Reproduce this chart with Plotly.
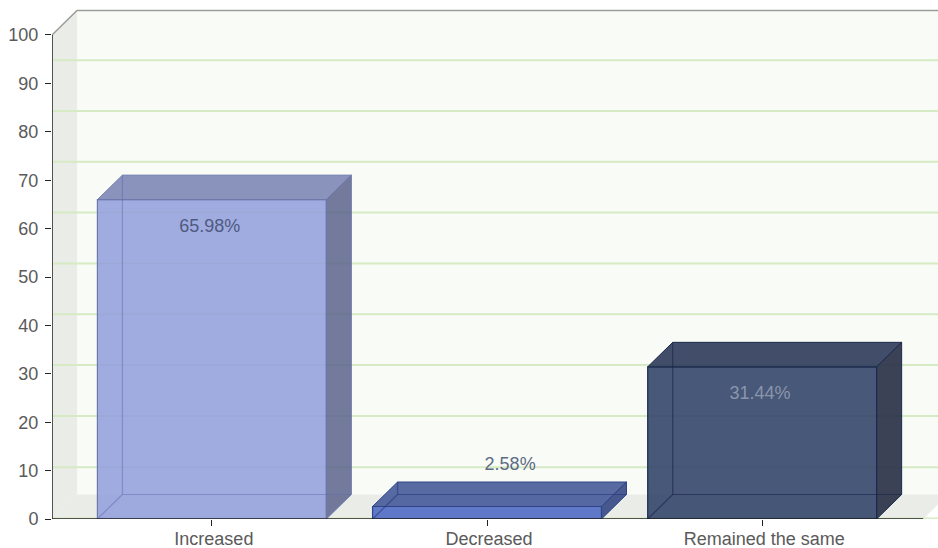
import plotly.graph_objects as go

categories = ["Increased", "Decreased", "Remained the same"]
values = [65.98, 2.58, 31.44]
labels = ["65.98%", "2.58%", "31.44%"]
y_ticks = [0, 10, 20, 30, 40, 50, 60, 70, 80, 90, 100]
wall_lines = [0.1, 10.7, 21.3, 31.8, 42.3, 52.8, 63.3, 73.8, 84.3, 94.8]

front_colors = ["rgba(145,158,220,0.85)", "rgba(80,108,195,0.9)", "rgba(52,70,106,0.9)"]
top_colors = ["rgba(118,128,178,0.85)", "rgba(65,85,150,0.88)", "rgba(45,58,90,0.9)"]
side_colors = ["rgba(96,104,142,0.88)", "rgba(52,72,132,0.9)", "rgba(42,50,72,0.92)"]
edge_colors = ["#6d79ad", "#2f4488", "#1b2a4e"]
inner_colors = ["rgba(95,108,175,0.5)", "rgba(35,55,120,0.6)", "rgba(25,38,75,0.65)"]
label_colors = ["#4f5a80", "#5c6a86", "#8b95ad"]

BAR_W = 0.832
DX, DY = 0.0909, 5.06
X0, X_END, X_MAX = -0.581, 2.585, 2.639
Y_MAX = 107.23

WALL = "#eaece8"
BACK = "#f9fcf6"

shapes = [
    dict(type="rect", xref="x", yref="y", x0=X0 + DX, x1=X_MAX + 1, y0=DY, y1=100 + DY,
         fillcolor=BACK, line_width=0, layer="below"),
    dict(type="path", xref="x", yref="y", layer="below", fillcolor=WALL, line_width=0,
         path=f"M{X0},0 L{X0+DX},{DY} L{X0+DX},{100+DY} L{X0},100 Z"),
    dict(type="path", xref="x", yref="y", layer="below", fillcolor=WALL, line_width=0,
         path=f"M{X0},0 L{X0+DX},{DY} L{X_END+DX},{DY} L{X_END},0 Z"),
]
for g in wall_lines:
    shapes.append(dict(type="line", xref="x", yref="y", layer="below", x0=X0, x1=X_MAX, y0=g, y1=g,
                       line=dict(color="#d6eac4", width=2)))
# top/back border of the wall
shapes.append(dict(type="path", xref="x", yref="y", layer="below", fillcolor="rgba(0,0,0,0)",
                   path=f"M{X0},100 L{X0+DX},{100+DY} L{X_MAX},{100+DY}",
                   line=dict(color="#9a9c9a", width=1.5)))
# axis lines
shapes.append(dict(type="line", xref="x", yref="y", layer="above", x0=X0, x1=X0, y0=0, y1=100,
                   line=dict(color="#222222", width=1.5)))
shapes.append(dict(type="line", xref="x", yref="y", layer="above", x0=X0, x1=X_END, y0=0, y1=0,
                   line=dict(color="#222222", width=1.5)))

fig = go.Figure()
fig.add_trace(go.Bar(x=list(range(3)), y=values, width=BAR_W,
                     marker=dict(color=front_colors, line=dict(color=edge_colors, width=1.2)),
                     hoverinfo="skip", showlegend=False))

for i, v in enumerate(values):
    l, r = i - BAR_W / 2, i + BAR_W / 2
    fig.add_trace(go.Scatter(x=[l, l + DX, r + DX, r, l], y=[v, v + DY, v + DY, v, v],
                             mode="lines", fill="toself", fillcolor=top_colors[i],
                             line=dict(color=edge_colors[i], width=1), hoverinfo="skip", showlegend=False))
    fig.add_trace(go.Scatter(x=[r, r + DX, r + DX, r, r], y=[0, DY, v + DY, v, 0],
                             mode="lines", fill="toself", fillcolor=side_colors[i],
                             line=dict(color=edge_colors[i], width=1), hoverinfo="skip", showlegend=False))
    fig.add_trace(go.Scatter(x=[l, l + DX, l + DX, None, l + DX, r + DX],
                             y=[0, DY, v + DY, None, DY, DY],
                             mode="lines", line=dict(color=inner_colors[i], width=1.2),
                             hoverinfo="skip", showlegend=False))

# value labels: inside the tall bars, above the top face of the short one
for i, v in enumerate(values):
    inside = v > 10
    fig.add_trace(go.Scatter(x=[i - 0.008 if inside else i + 0.084],
                             y=[v - 5.8 if inside else v + 8.5],
                             mode="text", text=[labels[i]], textposition="middle center",
                             textfont=dict(family="Liberation Sans", size=18, color=label_colors[i]),
                             hoverinfo="skip", showlegend=False))

fig.update_layout(
    width=938, height=548, autosize=False,
    margin=dict(l=52, r=0, t=0, b=29, pad=0),
    paper_bgcolor="white", plot_bgcolor="white",
    showlegend=False, shapes=shapes, barmode="overlay",
    font=dict(family="Liberation Sans", size=18, color="#5a5a5a"),
    xaxis=dict(range=[X0, X_MAX], tickmode="array", tickvals=[0, 1, 2], ticktext=categories,
               ticks="outside", ticklen=6, tickwidth=1.2, tickcolor="#222222", automargin=False,
               showgrid=False, zeroline=False, showline=False, ticklabelshift=2,
               ticklabelstandoff=-3,
               tickfont=dict(family="Liberation Sans", size=18, color="#5a5a5a")),
    yaxis=dict(range=[0, Y_MAX], tickmode="array", tickvals=y_ticks, automargin=False,
               ticks="outside", ticklen=6, tickwidth=1.2, tickcolor="#222222",
               showgrid=False, zeroline=False, showline=False, ticklabelstandoff=3,
               tickfont=dict(family="Liberation Sans", size=18, color="#5a5a5a")),
)

fig.write_html("out.html", config=dict(displayModeBar=False, responsive=False),
               post_script="document.body.style.margin='0';document.body.style.overflow='hidden';")
